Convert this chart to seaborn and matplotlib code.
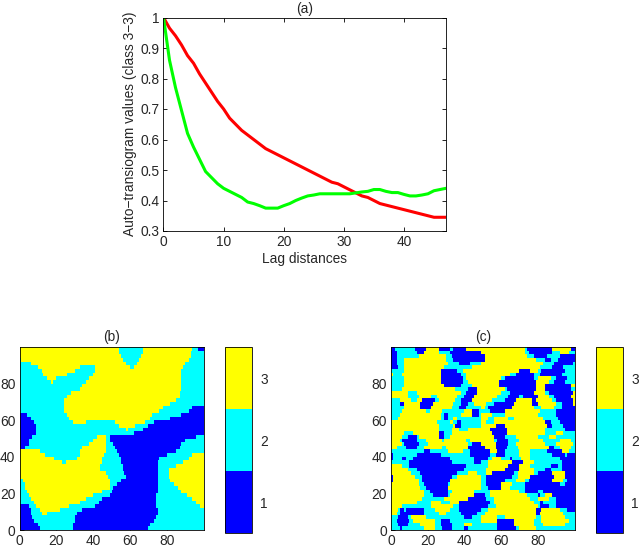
import numpy as np, pandas as pd
import matplotlib
matplotlib.use("Agg")
import matplotlib.pyplot as plt
from matplotlib.colors import ListedColormap
import seaborn as sns

sns.set_theme(style="white")
plt.rcParams['font.family'] = ['Liberation Sans', 'DejaVu Sans']

W, H = 639, 547
lags = list(range(48))
red = [1,.965,.94,.91,.875,.85,.815,.785,.755,.725,.70,.67,.65,.63,.615,.60,.585,.57,.56,.55,.54,.53,.52,.51,
       .50,.49,.48,.47,.46,.455,.445,.435,.425,.415,.41,.40,.39,.385,.38,.375,.37,.365,.36,.355,.35,.345,.345,.345]
green = [1,.86,.77,.695,.62,.575,.535,.495,.475,.455,.44,.43,.42,.41,.395,.39,.383,.375,.375,.375,.383,.39,.40,.408,
         .415,.418,.422,.422,.422,.422,.422,.422,.425,.428,.43,.436,.436,.43,.426,.426,.42,.415,.415,.418,.422,.432,.436,.44]

# class runs per 2-unit band, top to bottom: "class:end_x"
map_b = [
 "3:54 2:67 3:94 2:97 1:100",
 "3:54 2:67 3:93 2:100",
 "3:55 2:66 3:93 2:100",
 "2:1 3:56 2:65 3:92 2:100",
 "2:6 3:58 2:64 3:90 2:100",
 "2:10 3:33 2:41 3:60 2:62 3:89 2:100",
 "2:12 3:30 2:41 3:88 2:100",
 "2:13 3:26 2:40 3:88 2:100",
 "2:15 3:20 2:38 3:88 2:100",
 "2:17 3:18 2:36 3:88 2:100",
 "2:34 3:88 2:100",
 "2:33 3:88 2:100",
 "2:28 3:87 2:100",
 "2:26 3:87 2:100",
 "2:24 3:85 2:100",
 "2:24 3:82 2:100",
 "2:24 3:78 2:94 1:100",
 "2:24 3:76 2:92 1:100",
 "1:4 2:26 3:72 2:88 1:100",
 "1:6 2:27 3:71 2:82 1:100",
 "1:8 2:29 3:36 2:52 3:68 2:73 1:100",
 "1:9 2:54 3:63 2:70 1:100",
 "1:9 2:58 3:59 2:67 1:100",
 "1:9 2:62 1:100",
 "1:7 2:42 3:47 2:49 1:96 2:100",
 "1:5 2:40 3:47 2:49 1:90 2:100",
 "1:5 2:38 3:47 2:51 1:88 2:100",
 "1:3 2:34 3:47 2:52 1:87 2:100",
 "3:11 2:33 3:47 2:53 1:85 2:100",
 "3:14 2:33 3:46 2:54 1:80 2:94 3:100",
 "3:19 2:31 3:45 2:55 1:76 2:92 3:100",
 "3:23 2:25 3:45 2:55 1:75 2:89 3:100",
 "3:44 2:56 1:75 2:85 3:100",
 "3:44 2:56 1:75 2:81 3:100",
 "3:47 2:57 1:75 2:81 3:100",
 "3:48 2:58 1:75 2:81 3:100",
 "2:2 3:49 2:55 1:75 2:82 3:100",
 "2:3 3:49 2:53 1:75 2:84 3:100",
 "2:3 3:49 2:51 1:75 2:86 3:100",
 "2:4 3:45 2:50 1:75 2:88 3:100",
 "2:5 3:40 2:49 1:74 2:91 3:100",
 "2:6 3:36 2:45 1:74 2:94 3:100",
 "2:8 3:33 2:43 1:74 2:96 3:100",
 "1:5 2:9 3:27 2:41 1:74 2:98 3:100",
 "1:6 2:11 3:22 2:34 1:75 2:100",
 "1:6 2:12 3:15 2:31 1:75 2:100",
 "1:7 2:30 1:74 2:100",
 "1:8 2:30 1:73 2:100",
 "1:10 2:29 1:71 2:100",
 "1:11 2:29 1:70 2:100",
]
map_c = [
 "1:2 2:13 1:19 3:26 1:32 2:34 1:41 3:49 3:73 2:74 1:88 3:98 1:100",
 "1:3 2:14 1:18 3:26 2:32 1:49 3:73 2:75 1:88 2:92 3:97 2:100",
 "1:3 2:15 3:30 2:33 1:49 1:51 3:74 2:78 1:85 2:92 1:100",
 "1:3 2:7 3:30 2:34 1:49 1:51 3:79 2:84 1:87 2:91 1:100",
 "1:3 2:7 3:31 2:37 1:43 2:49 3:83 2:89 1:99 2:100",
 "1:4 2:7 3:29 2:44 3:81 2:88 1:94 2:100",
 "2:7 3:27 1:36 2:39 3:70 1:76 3:80 2:82 1:95 2:100",
 "3:1 2:6 3:27 1:38 2:41 3:65 2:68 1:78 2:81 1:93 2:100",
 "2:7 3:27 1:39 2:41 3:60 2:62 1:78 2:80 3:87 2:90 1:96 2:100",
 "2:7 3:27 1:39 2:42 3:59 1:79 3:86 2:89 1:95 2:100",
 "2:7 3:29 1:38 2:44 3:59 1:79 3:84 1:98 3:100",
 "2:6 3:35 2:42 1:47 3:62 2:63 1:79 3:84 1:98 2:100",
 "3:9 2:14 3:38 2:41 1:47 3:60 2:65 1:78 3:84 2:86 1:99 3:100",
 "3:9 2:15 3:22 2:25 3:36 2:40 1:45 3:58 2:64 1:70 2:72 1:80 3:86 2:89 1:98 3:100",
 "2:5 3:11 2:14 3:17 1:24 2:26 3:35 2:38 1:44 3:55 2:62 1:68 3:77 1:79 3:88 2:90 1:99 3:100",
 "2:5 1:7 3:16 1:23 3:34 2:38 1:42 2:45 3:52 2:56 1:67 3:77 1:80 3:90 2:93 1:99 3:100",
 "2:7 3:16 1:22 3:33 2:37 1:41 2:49 3:51 2:53 1:66 3:78 2:82 3:89 2:93 1:100",
 "2:6 3:19 2:21 3:28 2:40 3:44 1:48 2:54 1:62 3:81 2:90 1:100",
 "2:5 3:27 2:29 1:31 2:38 3:44 1:48 2:49 3:55 2:62 3:80 2:90 1:100",
 "2:4 3:27 2:29 1:31 2:34 3:36 2:49 3:53 2:56 3:64 2:67 3:83 2:91 1:100",
 "3:25 2:32 3:34 2:36 1:38 2:49 3:52 2:56 3:84 1:87 2:92 1:100",
 "3:26 2:34 3:35 1:38 2:49 3:57 1:62 3:85 1:88 2:94 1:100",
 "3:26 2:33 3:37 2:42 3:54 1:63 3:84 2:95 1:100",
 "3:7 2:12 3:26 1:29 2:33 3:55 1:63 3:84 2:90 3:94 2:100",
 "3:6 2:9 1:14 2:15 3:26 1:29 2:32 3:56 1:62 2:68 3:80 2:86 3:90 2:100",
 "3:5 2:6 1:14 2:19 3:28 2:29 3:41 2:43 3:56 2:58 1:64 2:70 3:83 2:92 3:98 2:100",
 "3:6 2:7 1:15 2:20 3:42 2:44 1:49 3:57 1:64 2:68 3:84 2:90 3:99 2:100",
 "3:3 2:8 1:14 2:18 3:28 2:30 3:42 1:51 3:57 1:63 2:69 3:86 1:89 2:92 3:98 2:100",
 "2:18 1:21 2:31 3:39 2:43 1:54 3:58 1:62 2:70 3:76 2:85 1:93 3:97 2:100",
 "1:1 2:14 1:27 2:43 1:54 2:57 1:62 2:70 3:76 2:88 1:95 2:96 1:100",
 "1:1 2:6 1:8 2:12 1:32 2:45 1:53 2:55 3:60 2:65 1:66 2:71 3:76 2:92 1:100",
 "2:10 1:33 2:45 1:49 2:53 3:66 1:72 3:78 2:93 1:100",
 "3:6 2:10 1:41 2:53 3:64 1:70 3:76 2:87 1:91 2:93 1:100",
 "3:9 2:14 1:40 2:52 3:62 1:70 3:78 2:84 1:87 2:93 1:100",
 "3:11 2:16 1:36 2:42 3:47 2:52 3:55 1:67 2:69 3:78 2:80 1:88 3:95 1:100",
 "1:1 3:13 2:17 1:33 2:36 3:49 2:52 1:66 2:69 3:76 1:89 3:95 1:100",
 "1:1 3:15 2:17 1:32 3:49 2:52 1:62 2:68 3:73 2:75 1:88 3:94 2:96 1:100",
 "3:15 2:18 1:31 2:32 3:49 2:52 1:60 3:66 2:73 1:92 2:95 1:100",
 "3:16 2:19 1:31 3:49 2:53 1:60 3:65 2:73 1:100",
 "3:18 2:21 1:31 2:33 3:45 2:54 3:70 2:73 1:80 2:83 1:100",
 "3:18 2:23 1:31 2:32 3:45 1:51 2:54 3:74 2:80 1:81 2:84 3:88 1:100",
 "3:17 2:29 3:42 1:52 2:56 3:76 2:80 3:86 2:90 1:100",
 "3:14 2:22 3:27 2:32 3:37 1:54 2:56 3:78 2:81 1:83 2:90 1:100",
 "3:6 2:22 3:34 2:37 1:53 2:57 3:80 2:81 1:86 2:90 1:100",
 "3:4 2:5 1:7 2:8 1:18 2:24 3:32 2:37 1:49 2:53 3:79 1:82 3:92 2:96 1:100",
 "3:3 2:5 1:18 2:26 3:30 2:38 1:47 2:51 3:79 1:81 3:94 2:100",
 "2:4 1:9 2:11 3:19 2:40 1:44 2:49 3:58 2:62 3:79 2:82 3:95 2:100",
 "2:3 1:10 2:12 3:24 2:27 1:32 2:49 3:58 1:67 3:78 2:82 3:97 2:100",
 "2:4 1:9 2:16 3:24 2:27 1:33 2:40 3:44 2:58 1:67 3:78 2:83 3:95 2:100",
 "2:5 1:6 2:18 3:24 2:28 1:33 2:40 1:42 2:58 1:68 2:70 3:79 2:100",
]
class_ticks = [1, 2, 3]
map_ticks = [0, 20, 40, 60, 80]
class_colors = ["#0000ff", "#00ffff", "#ffff00"]

def grid(rows):
    out = []
    for r in rows:
        line, start = [], 0
        for run in r.split():
            v, e = run.split(":")
            line += [int(v)] * (int(e) - start)
            start = int(e)
        out.append(line)
    return np.repeat(np.array(out[::-1]), 2, axis=0)

def box(l, t, r, b):
    return [l / W, 1 - b / H, (r - l) / W, (b - t) / H]

FS = 9.9
fig = plt.figure(figsize=(W / 100, H / 100), dpi=100)

ax = fig.add_axes(box(163.5, 17.5, 446, 231))
df = pd.DataFrame({"lag": lags * 2, "v": red + green, "s": ["r"] * 48 + ["g"] * 48})
sns.lineplot(data=df, x="lag", y="v", hue="s", palette={"r": "#ff0000", "g": "#00ff00"},
             linewidth=2.2, legend=False, ax=ax, errorbar=None)
ax.set_xlim(0, 47); ax.set_ylim(0.3, 1)
ax.set_xticks([0, 10, 20, 30, 40])
ax.set_yticks([.3, .4, .5, .6, .7, .8, .9, 1], ["0.3", "0.4", "0.5", "0.6", "0.7", "0.8", "0.9", "1"])
ax.set_xlabel("Lag distances", fontsize=FS, labelpad=2)
ax.set_ylabel("Auto\u2212transiogram values (class 3\u22123)", fontsize=FS, labelpad=2)
ax.set_title("(a)", fontsize=FS, pad=3)

def panel(rows, title, axb, cb):
    a = fig.add_axes(box(*axb)); c = fig.add_axes(box(*cb))
    sns.heatmap(grid(rows), ax=a, cbar_ax=c, vmin=.5, vmax=3.5, square=False,
                cmap=ListedColormap(class_colors), xticklabels=False, yticklabels=False)
    a.invert_yaxis()
    a.set_xticks(map_ticks, map_ticks, rotation=0)
    a.set_yticks(map_ticks, map_ticks, rotation=0)
    a.set_title(title, fontsize=FS, pad=4)
    c.set_yticks(class_ticks, class_ticks)
    c.tick_params(length=0, labelsize=FS, pad=6, right=True)
    cb_obj = a.collections[0].colorbar
    cb_obj.outline.set_visible(True)
    cb_obj.outline.set_edgecolor("black")
    cb_obj.outline.set_linewidth(.6)
    return a

a1 = panel(map_b, "(b)", (19.5, 347, 203.5, 530), (225, 347, 252, 533))
a2 = panel(map_c, "(c)", (391, 347, 574.5, 530), (596, 347, 623, 533))

for a in (ax, a1, a2):
    a.tick_params(direction="in", length=3, width=.6, labelsize=FS, top=a is ax, right=a is ax,
                  bottom=True, left=True, pad=3, color="black")
    for s in a.spines.values():
        s.set_visible(True); s.set_color("black"); s.set_linewidth(.6)

fig.savefig("out.png", dpi=100)
